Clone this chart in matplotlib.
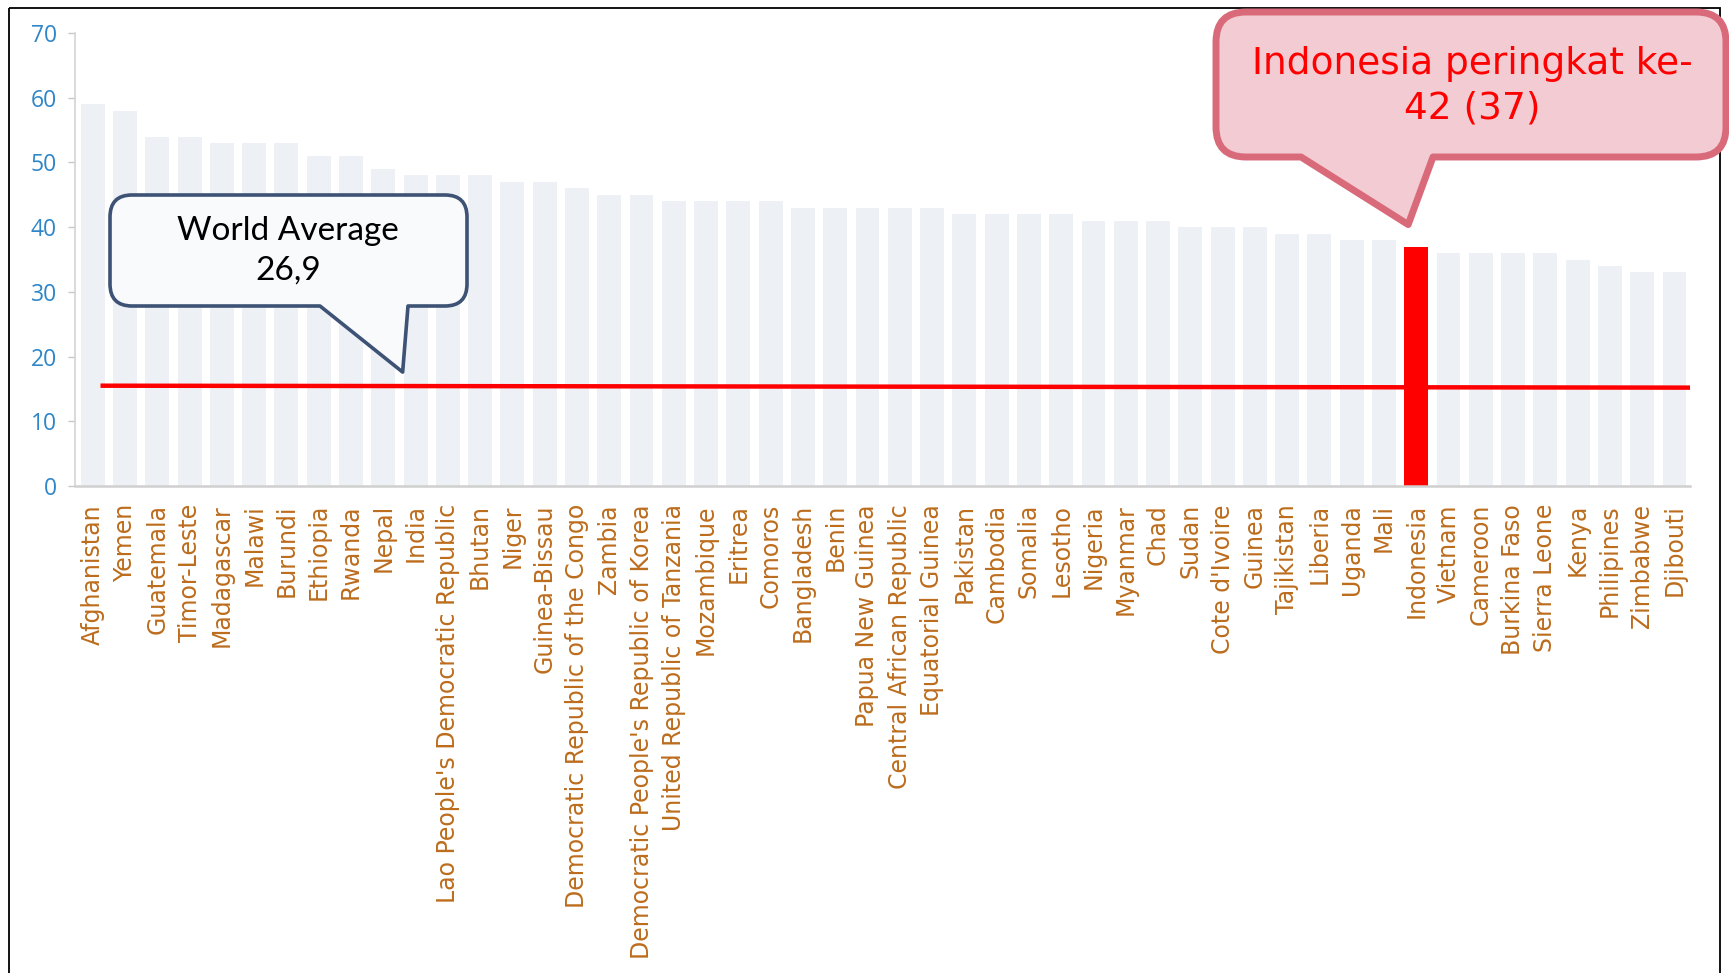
import matplotlib
matplotlib.use("Agg")
import matplotlib.pyplot as plt
from matplotlib.path import Path
from matplotlib.patches import PathPatch, Rectangle

countries = [
    "Afghanistan", "Yemen", "Guatemala", "Timor-Leste", "Madagascar", "Malawi",
    "Burundi", "Ethiopia", "Rwanda", "Nepal", "India",
    "Lao People's Democratic Republic", "Bhutan", "Niger", "Guinea-Bissau",
    "Democratic Republic of the Congo", "Zambia",
    "Democratic People's Republic of Korea", "United Republic of Tanzania",
    "Mozambique", "Eritrea", "Comoros", "Bangladesh", "Benin",
    "Papua New Guinea", "Central African Republic", "Equatorial Guinea",
    "Pakistan", "Cambodia", "Somalia", "Lesotho", "Nigeria", "Myanmar", "Chad",
    "Sudan", "Cote d'Ivoire", "Guinea", "Tajikistan", "Liberia", "Uganda",
    "Mali", "Indonesia", "Vietnam", "Cameroon", "Burkina Faso", "Sierra Leone",
    "Kenya", "Philipines", "Zimbabwe", "Djibouti",
]
values = [
    59, 58, 54, 54, 53, 53, 53, 51, 51, 49, 48, 48, 48, 47, 47, 46, 45, 45, 44,
    44, 44, 44, 43, 43, 43, 43, 43, 42, 42, 42, 42, 41, 41, 41, 40, 40, 40, 39,
    39, 38, 38, 37, 36, 36, 36, 36, 35, 34, 33, 33,
]
highlight = "Indonesia"
average_line = [15.5, 15.2]
y_ticks = [0, 10, 20, 30, 40, 50, 60, 70]
world_label = "World Average\n26,9"
rank_label = "Indonesia peringkat ke-\n42 (37)"

W, H = 1729, 973
fig = plt.figure(figsize=(W / 100, H / 100), dpi=100)
fig.patch.set_facecolor("white")

# main bar axes
ax = fig.add_axes([75 / W, 1 - 486 / H, (1690 - 75) / W, (486 - 33) / H])
ax.set_facecolor("none")
x = list(range(len(countries)))
colors = ["#FF0000" if c == highlight else "#EDF0F4" for c in countries]
ax.bar(x, values, width=0.74, color=colors, zorder=2)

# average reference line across the categories
ax.plot([0.24, len(countries) - 0.4], average_line, color="#FF0000",
        lw=3.2, solid_capstyle="butt", zorder=3)

ax.set_xlim(-0.55, len(countries) - 0.52)
ax.set_ylim(0, 70)
ax.set_yticks(y_ticks)
ax.set_yticklabels([str(t) for t in y_ticks], fontfamily="Open Sans",
                   fontsize=16.5, color="#2E86C8")
ax.set_xticks(x)
ax.set_xticklabels(countries, rotation=90, fontfamily="DejaVu Sans",
                   fontsize=17, color="#BC6C1C")
ax.tick_params(axis="x", length=0, pad=13)
ax.tick_params(axis="y", length=5, width=1, color="#C8C8C8", pad=8)
for side in ("top", "right"):
    ax.spines[side].set_visible(False)
ax.spines["left"].set_color("#D4D4D4")
ax.spines["left"].set_linewidth(1.2)
ax.spines["bottom"].set_color("#D0D0D0")
ax.spines["bottom"].set_linewidth(1.8)

# overlay in pixel coordinates for frame and callouts
ov = fig.add_axes([0, 0, 1, 1], zorder=5)
ov.set_xlim(0, W)
ov.set_ylim(H, 0)
ov.axis("off")
ov.set_facecolor("none")

ov.add_patch(Rectangle((9, 8), 1720 - 9, H + 20, fill=False,
                       edgecolor="black", lw=1.3, zorder=1))


def to_pixels(xd, yd):
    dx, dy = ax.transData.transform((xd, yd))
    return dx, H - dy


def callout(x0, y0, x1, y1, r, tail_l, tail_r, tip):
    verts = [
        (x0 + r, y0), (x1 - r, y0),
        (x1, y0), (x1, y0 + r),
        (x1, y1 - r),
        (x1, y1), (x1 - r, y1),
        (tail_r, y1), tip, (tail_l, y1),
        (x0 + r, y1),
        (x0, y1), (x0, y1 - r),
        (x0, y0 + r),
        (x0, y0), (x0 + r, y0),
        (x0 + r, y0),
    ]
    codes = [
        Path.MOVETO, Path.LINETO,
        Path.CURVE3, Path.CURVE3,
        Path.LINETO,
        Path.CURVE3, Path.CURVE3,
        Path.LINETO, Path.LINETO, Path.LINETO,
        Path.LINETO,
        Path.CURVE3, Path.CURVE3,
        Path.LINETO,
        Path.CURVE3, Path.CURVE3,
        Path.CLOSEPOLY,
    ]
    return Path(verts, codes)


# world average callout
tip_w = to_pixels(9.6, 17.6)
p = callout(110, 195, 467, 306, 22, 320, 408, tip_w)
ov.add_patch(PathPatch(p, facecolor="#F8FAFC", edgecolor="#3D5275",
                       lw=2.6, joinstyle="round", zorder=3))
ov.text(288, 251, world_label, ha="center", va="center", fontfamily="Lato",
        fontsize=24, color="black", linespacing=1.4, zorder=4)

# highlighted country callout
tip_i = to_pixels(40.75, 40.4)
p2 = callout(1216, 12, 1726, 157, 30, 1301, 1433, tip_i)
ov.add_patch(PathPatch(p2, facecolor="#F2CCD2", edgecolor="#D96A7A",
                       lw=5, joinstyle="round", zorder=3))
ov.text(1472, 86, rank_label, ha="center", va="center", fontfamily="DejaVu Sans",
        fontsize=27, color="#FF0000", linespacing=1.3, zorder=4)

fig.savefig("out.png", dpi=100, facecolor="white")
